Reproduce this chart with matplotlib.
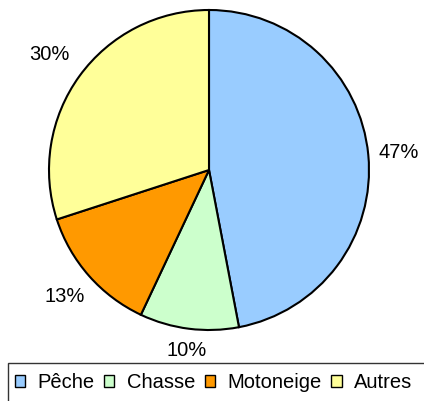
import numpy as np
import matplotlib
import matplotlib.pyplot as plt
from matplotlib.patches import Rectangle

matplotlib.rcParams['font.family'] = 'sans-serif'
matplotlib.rcParams['font.sans-serif'] = ['Liberation Sans']

# Data
activities = ['Pêche', 'Chasse', 'Motoneige', 'Autres']
shares = [47, 10, 13, 30]
colors = ['#99CCFF', '#CCFFCC', '#FF9900', '#FFFF99']
label_dist = [1.19, 1.14, 1.20, 1.23]

W, H = 424, 401
fig = plt.figure(figsize=(W / 100, H / 100), dpi=100)
ax = fig.add_axes([49 / W, 71 / H, 320 / W, 320 / H])

wedges, _ = ax.pie(shares, colors=colors, startangle=90, counterclock=False,
                   radius=1, wedgeprops=dict(edgecolor='black', linewidth=1.5))
ax.set_xlim(-1, 1)
ax.set_ylim(-1, 1)
ax.set_aspect('auto')

# Percentage labels outside the slices
for w, val, d in zip(wedges, shares, label_dist):
    ang = np.deg2rad((w.theta1 + w.theta2) / 2)
    ax.text(d * np.cos(ang), d * np.sin(ang), f'{val}%', ha='center',
            va='center', fontsize=14.5, clip_on=False)

# Legend box runs off the right and bottom edges
fig.patches.append(Rectangle((8 / W, -0.05), 1.0, 1 - 363 / H + 0.05,
                             transform=fig.transFigure, facecolor='white',
                             edgecolor='#333333', linewidth=1.0))

leg = fig.legend(wedges, activities, loc='upper left', ncol=4,
                 bbox_to_anchor=(8 / W, 1 - 366 / H), fontsize=14.5,
                 frameon=False, handlelength=0.5, handleheight=0.5,
                 handletextpad=0.6, columnspacing=0.5, borderpad=0.35,
                 borderaxespad=0)
for h in leg.legend_handles:
    h.set_linewidth(1.0)

fig.savefig('out.png', dpi=100)
